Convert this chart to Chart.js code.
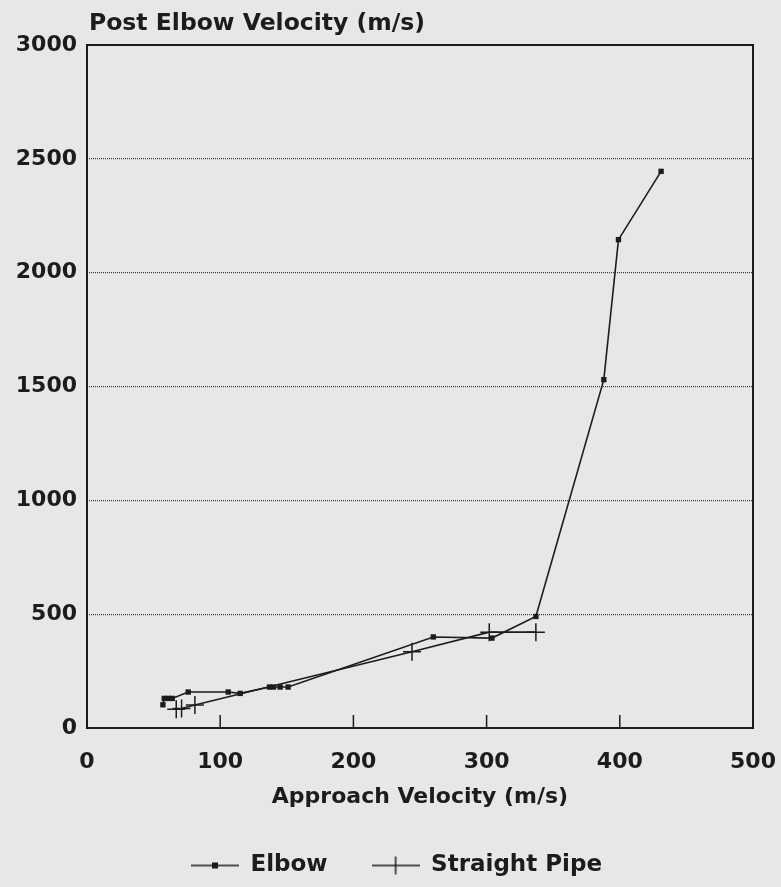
<!DOCTYPE html>
<html>
<head>
<meta charset="utf-8">
<script src="https://cdn.jsdelivr.net/npm/chart.js@4/dist/chart.umd.min.js"></script>
<style>
  html, body { margin: 0; padding: 0; background: #e7e7e7; }
  #wrap { width: 781px; height: 887px; }
</style>
</head>
<body>
<div id="wrap"><canvas id="velocityChart"></canvas></div>
<script>
// values
const elbowX = [57, 58, 61, 64, 76, 106, 115, 137, 140, 145, 151, 260, 304, 337, 388, 399, 431];
const elbowY = [102, 130, 130, 130, 158, 158, 152, 180, 180, 180, 180, 400, 395, 490, 1530, 2145, 2445];
const pipeX = [67, 71, 81, 244, 302, 337];
const pipeY = [82, 86, 101, 335, 421, 421];
const xTicks = [0, 100, 200, 300, 400, 500];
const yTicks = [0, 500, 1000, 1500, 2000, 2500, 3000];
const seriesNames = ['Elbow', 'Straight Pipe'];
const xTitle = 'Approach Velocity (m/s)';
const yTitle = 'Post Elbow Velocity (m/s)';

const FONT = 'DejaVu Sans';
const INK = '#1c1c1c';

// little legend picture: line with the marker in the middle
function swatch(kind) {
    const c = document.createElement('canvas');
    c.width = 48;
    c.height = 20;
    const g = c.getContext('2d');
    g.strokeStyle = INK;
    g.fillStyle = INK;
    g.lineWidth = 1.5;
    g.beginPath();
    g.moveTo(0, 10);
    g.lineTo(48, 10);
    g.stroke();
    if (kind === 'rect') {
        g.fillRect(21, 7, 6, 6);
    } else {
        g.beginPath();
        g.moveTo(24, 1);
        g.lineTo(24, 19);
        g.stroke();
    }
    return c;
}

// frame, inward x ticks and the y title sitting above the plot
const framePlugin = {
    id: 'frame',
    afterDraw(chart) {
        const { ctx, chartArea: a, scales } = chart;
        ctx.save();
        ctx.strokeStyle = INK;
        ctx.lineWidth = 2;
        ctx.strokeRect(a.left, a.top, a.right - a.left, a.bottom - a.top);

        ctx.lineWidth = 1.5;
        xTicks.slice(1, -1).forEach(v => {
            const x = scales.x.getPixelForValue(v);
            ctx.beginPath();
            ctx.moveTo(x, a.bottom);
            ctx.lineTo(x, a.bottom - 13);
            ctx.stroke();
        });

        ctx.fillStyle = INK;
        ctx.font = 'bold 23.5px ' + FONT;
        ctx.textBaseline = 'middle';
        ctx.textAlign = 'left';
        ctx.fillText(yTitle, a.left + 2, a.top - 21);
        ctx.restore();
    }
};

const ctx = document.getElementById('velocityChart').getContext('2d');
new Chart(ctx, {
    type: 'scatter',
    data: {
        datasets: [
            {
                label: seriesNames[0],
                data: elbowX.map((x, i) => ({ x: x, y: elbowY[i] })),
                showLine: true,
                borderColor: INK,
                borderWidth: 1.6,
                pointStyle: 'rect',
                pointRadius: 3.8,
                pointBackgroundColor: INK,
                pointBorderColor: INK,
                pointBorderWidth: 0,
            },
            {
                label: seriesNames[1],
                data: pipeX.map((x, i) => ({ x: x, y: pipeY[i] })),
                showLine: true,
                borderColor: INK,
                borderWidth: 1.6,
                pointStyle: 'cross',
                pointRadius: 9,
                pointBorderColor: INK,
                pointBorderWidth: 1.5,
            },
        ],
    },
    options: {
        responsive: true,
        maintainAspectRatio: false,
        animation: false,
        // right margin comes from the x scale padding so the legend can use the full width
        layout: { padding: { top: 45, right: 0, bottom: 0, left: 12 } },
        scales: {
            x: {
                type: 'linear',
                min: 0,
                max: 500,
                afterBuildTicks: s => { s.ticks = xTicks.map(v => ({ value: v })); },
                afterFit: s => { s.height = 82; s.paddingLeft = 0; s.paddingRight = 28; },
                grid: { display: false },
                border: { display: false },
                ticks: { color: INK, padding: 13, font: { family: FONT, size: 22, weight: 'bold' } },
                title: {
                    display: true,
                    text: xTitle,
                    color: INK,
                    padding: { top: 0, bottom: 0 },
                    font: { family: FONT, size: 22, weight: 'bold' },
                },
            },
            y: {
                type: 'linear',
                min: 0,
                max: 3000,
                afterBuildTicks: s => { s.ticks = yTicks.map(v => ({ value: v })); },
                afterFit: s => { s.width = 75; },
                grid: {
                    drawTicks: false,
                    color: c => (c.tick && (c.tick.value === 0 || c.tick.value === 3000)) ? 'rgba(0,0,0,0)' : '#3a3a3a',
                    lineWidth: 1.2,
                },
                border: { display: false, dash: [1, 1] },
                ticks: {
                    color: INK,
                    padding: 10,
                    font: { family: FONT, size: 22, weight: 'bold' },
                    callback: v => String(v),
                },
            },
        },
        plugins: {
            tooltip: { enabled: false },
            legend: {
                position: 'bottom',
                labels: {
                    color: INK,
                    usePointStyle: true,
                    pointStyleWidth: 48,
                    padding: 44,
                    font: { family: FONT, size: 23, weight: 'bold' },
                    generateLabels: chart => {
                        const items = Chart.defaults.plugins.legend.labels.generateLabels(chart);
                        return items.map((it, i) => ({ ...it, pointStyle: swatch(i === 0 ? 'rect' : 'cross') }));
                    },
                },
            },
        },
    },
    plugins: [framePlugin],
});
</script>
</body>
</html>
